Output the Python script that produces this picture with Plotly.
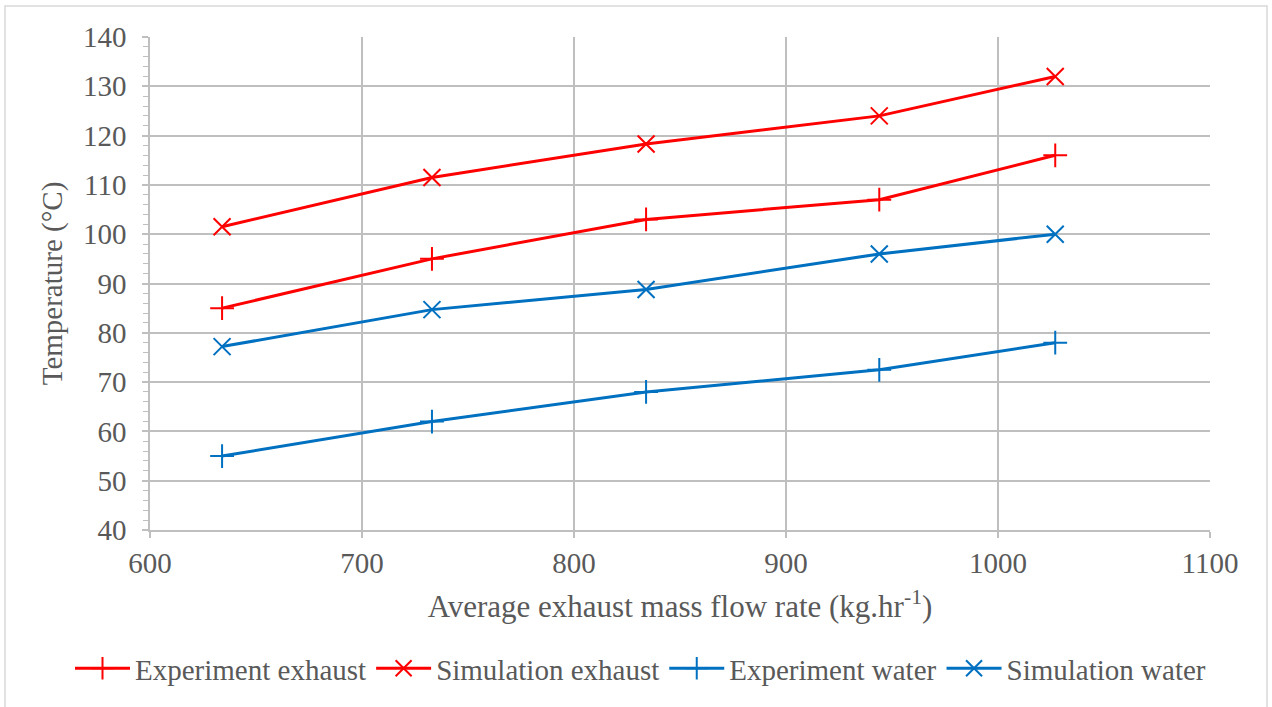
import plotly.graph_objects as go

flow = [634, 733, 834, 944, 1027]
exp_exhaust = [85, 95, 103, 107, 116]
sim_exhaust = [101.5, 111.5, 118.3, 124, 132]
exp_water = [55, 62, 68, 72.5, 78]
sim_water = [77.2, 84.7, 88.8, 96, 100]

RED = "#FF0000"
BLUE = "#0070C0"
FONT = "Liberation Serif"

fig = go.Figure()
series = [
    ("Experiment exhaust", exp_exhaust, RED, "cross-thin"),
    ("Simulation exhaust", sim_exhaust, RED, "x-thin"),
    ("Experiment water", exp_water, BLUE, "cross-thin"),
    ("Simulation water", sim_water, BLUE, "x-thin"),
]
for name, ys, col, sym in series:
    fig.add_trace(go.Scatter(
        x=flow, y=ys, name=name, mode="lines+markers",
        line=dict(color=col, width=3),
        marker=dict(symbol=sym, size=17, line=dict(color=col, width=2)),
    ))

grid = "#BFBFBF"
fig.update_layout(
    width=1272, height=707,
    paper_bgcolor="white", plot_bgcolor="white",
    margin=dict(l=150, r=62, t=37, b=177, autoexpand=False),
    font=dict(family=FONT, color="#595959", size=29),
    showlegend=True,
    legend=dict(orientation="h", x=(70 - 150) / 1060, xanchor="left", y=-0.229, yanchor="top",
                font=dict(family=FONT, size=29, color="#595959"), itemwidth=55, tracegroupgap=0,
                bgcolor="rgba(0,0,0,0)"),
    xaxis=dict(range=[600, 1100], dtick=100, showgrid=True, gridcolor=grid, gridwidth=1.5,
               showline=True, linecolor=grid, linewidth=1.5, mirror=False,
               ticks="outside", ticklen=6, tickcolor=grid, tickwidth=1.5,
               zeroline=False, tickfont=dict(family=FONT, size=29, color="#595959"),
               title=dict(text="Average exhaust mass flow rate (kg.hr<sup>-1</sup>)",
                          font=dict(family=FONT, size=31, color="#595959"), standoff=18)),
    yaxis=dict(range=[40, 140], dtick=10, showgrid=True, gridcolor=grid, gridwidth=1.5,
               showline=True, linecolor=grid, linewidth=1.5,
               ticks="outside", ticklen=6, tickcolor=grid, tickwidth=1.5, ticklabelstandoff=10,
               minor=dict(dtick=2, ticks="outside", ticklen=5, tickcolor=grid, tickwidth=1.2, showgrid=False),
               zeroline=False, tickfont=dict(family=FONT, size=29, color="#595959"),
               title=dict(text="Temperature (°C)", font=dict(family=FONT, size=29, color="#595959"), standoff=12)),
)
fig.add_shape(type="rect", xref="paper", yref="paper",
              x0=-145/1060, x1=1117/1060, y0=-180/493, y1=(493+31)/493,
              line=dict(color="#D9D9D9", width=1.5), layer="below")
fig.write_html("out.html", config={"displayModeBar": False},
               post_script="document.body.style.margin='0';")
